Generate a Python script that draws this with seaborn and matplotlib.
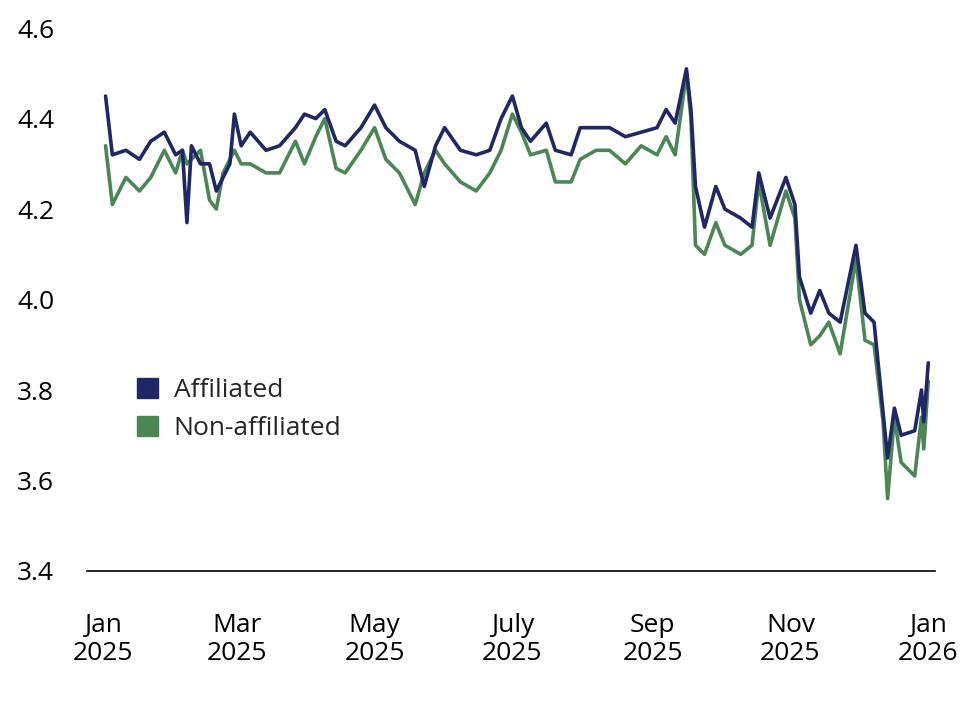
import pandas as pd
import matplotlib.pyplot as plt
import seaborn as sns
from matplotlib.patches import Patch

# day offsets from 2025-01-01 and yields
days = [1, 4, 10, 16, 21, 27, 32, 35, 37, 39, 43, 47, 50, 53, 56, 58, 61, 65, 72, 78,
        85, 89, 94, 98, 103, 107, 114, 120, 125, 131, 138, 142, 147, 151, 158, 165, 171,
        176, 181, 185, 189, 196, 200, 207, 211, 218, 224, 231, 238, 245, 249, 253, 258,
        260, 262, 266, 271, 275, 282, 287, 290, 295, 302, 306, 308, 313, 317, 321, 326,
        333, 337, 341, 345, 347, 350, 353, 359, 362, 363, 365]
affiliated = [4.45, 4.32, 4.33, 4.31, 4.35, 4.37, 4.32, 4.33, 4.17, 4.34, 4.30, 4.30, 4.24,
              4.27, 4.30, 4.41, 4.34, 4.37, 4.33, 4.34, 4.38, 4.41, 4.40, 4.42, 4.35, 4.34,
              4.38, 4.43, 4.38, 4.35, 4.33, 4.25, 4.34, 4.38, 4.33, 4.32, 4.33, 4.40, 4.45,
              4.38, 4.35, 4.39, 4.33, 4.32, 4.38, 4.38, 4.38, 4.36, 4.37, 4.38, 4.42, 4.39,
              4.51, 4.42, 4.25, 4.16, 4.25, 4.20, 4.18, 4.16, 4.28, 4.18, 4.27, 4.21, 4.05,
              3.97, 4.02, 3.97, 3.95, 4.12, 3.97, 3.95, 3.75, 3.65, 3.76, 3.70, 3.71, 3.80,
              3.73, 3.86]
non_affiliated = [4.34, 4.21, 4.27, 4.24, 4.27, 4.33, 4.28, 4.33, 4.30, 4.31, 4.33, 4.22, 4.20,
                  4.28, 4.31, 4.33, 4.30, 4.30, 4.28, 4.28, 4.35, 4.30, 4.36, 4.40, 4.29, 4.28,
                  4.33, 4.38, 4.31, 4.28, 4.21, 4.28, 4.33, 4.30, 4.26, 4.24, 4.28, 4.33, 4.41,
                  4.37, 4.32, 4.33, 4.26, 4.26, 4.31, 4.33, 4.33, 4.30, 4.34, 4.32, 4.36, 4.32,
                  4.50, 4.40, 4.12, 4.10, 4.17, 4.12, 4.10, 4.12, 4.26, 4.12, 4.24, 4.18, 4.00,
                  3.90, 3.92, 3.95, 3.88, 4.09, 3.91, 3.90, 3.73, 3.56, 3.74, 3.64, 3.61, 3.74,
                  3.67, 3.82]
tick_dates = ["2025-01-01", "2025-03-01", "2025-05-01", "2025-07-01", "2025-09-01",
              "2025-11-01", "2026-01-01"]
tick_labels = ["Jan\n2025", "Mar\n2025", "May\n2025", "July\n2025", "Sep\n2025",
               "Nov\n2025", "Jan\n2026"]

dates = pd.Timestamp("2025-01-01") + pd.to_timedelta(days, unit="D")
df = pd.DataFrame({"date": list(dates) * 2,
                   "value": affiliated + non_affiliated,
                   "group": ["Affiliated"] * len(days) + ["Non-affiliated"] * len(days)})

sns.set_style("white")
plt.rcParams["font.family"] = ["Open Sans", "DejaVu Sans"]
colors = {"Affiliated": "#1f2766", "Non-affiliated": "#4b8655"}

fig, ax = plt.subplots(figsize=(9.72, 7.04), dpi=100)
sns.lineplot(data=df, x="date", y="value", hue="group", palette=colors,
             hue_order=["Non-affiliated", "Affiliated"], linewidth=2.6, legend=False, ax=ax)

ax.set_xlim(pd.Timestamp("2024-12-25"), pd.Timestamp("2026-01-04"))
ax.set_ylim(3.4, 4.6)
ax.set_yticks([3.4, 3.6, 3.8, 4.0, 4.2, 4.4, 4.6])
ax.set_yticklabels(["3.4", "3.6", "3.8", "4.0", "4.2", "4.4", "4.6"])
ax.set_xticks(pd.to_datetime(tick_dates))
ax.set_xticklabels(tick_labels)
ax.tick_params(axis="both", length=0, labelsize=19, labelcolor="black")
ax.tick_params(axis="x", pad=30)
ax.tick_params(axis="y", pad=24)
ax.set_xlabel("")
ax.set_ylabel("")
for s in ["top", "right", "left"]:
    ax.spines[s].set_visible(False)
ax.spines["bottom"].set_color("black")
ax.spines["bottom"].set_linewidth(1.2)

handles = [Patch(color=colors["Affiliated"], label="Affiliated"),
           Patch(color=colors["Non-affiliated"], label="Non-affiliated")]
ax.legend(handles=handles, loc="upper left", bbox_to_anchor=(0.03, 0.40), frameon=False,
          fontsize=19, handlelength=0.8, handleheight=0.8, handletextpad=0.6, labelspacing=0.5)

plt.subplots_adjust(left=0.09, right=0.962, top=0.96, bottom=0.189)
fig.savefig("out.png", dpi=100)
